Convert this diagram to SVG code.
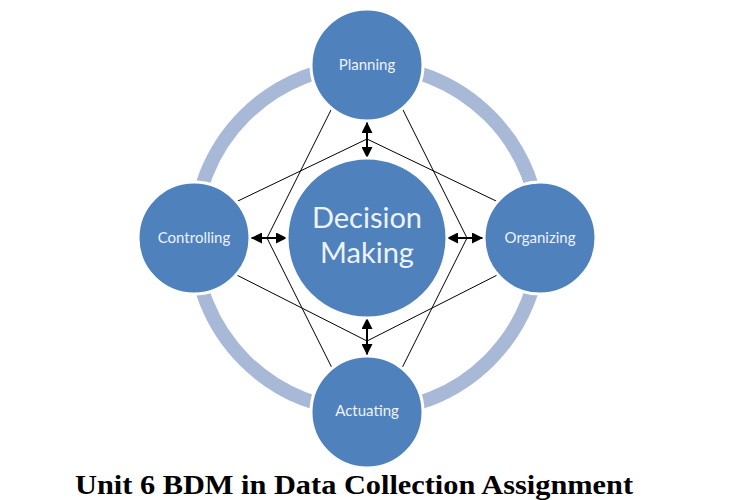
<svg xmlns="http://www.w3.org/2000/svg" width="750" height="500" viewBox="0 0 750 500">
<style>
.node{fill:#4F81BD;stroke:#fff;stroke-width:3}
.lbl{font-family:Lato,"Open Sans","Noto Sans",sans-serif;fill:#EEF3FA;text-anchor:middle;font-size:15px}
.big{font-size:29px}
.ln{stroke:#000;stroke-width:1;fill:none}
.arr{stroke:#000;stroke-width:2;fill:none;marker-start:url(#ah);marker-end:url(#ah)}
</style>
<defs>
<marker id="ah" viewBox="0 0 10 10" refX="10" refY="5" markerWidth="5.5" markerHeight="5.5" orient="auto-start-reverse" markerUnits="strokeWidth">
<path d="M0,0 L10,5 L0,10 Z" fill="#000"/>
</marker>
</defs>
<rect width="750" height="500" fill="#fff"/>
<circle cx="367" cy="238" r="173" fill="none" stroke="#A8B9D8" stroke-width="14"/>
<g id="connectors">
<polyline class="ln" points="345,82 267,238 345,394"/>
<polyline class="ln" points="389,82 467,238 389,394"/>
<polyline class="ln" points="215,212 367,139 519,212"/>
<polyline class="ln" points="215,264 367,341 519,264"/>
<line class="arr" x1="367" y1="122" x2="367" y2="158"/>
<line class="arr" x1="367" y1="318" x2="367" y2="355"/>
<line class="arr" x1="251" y1="238" x2="287" y2="238"/>
<line class="arr" x1="447" y1="238" x2="483" y2="238"/>
</g>
<g id="planning"><circle class="node" cx="367" cy="65" r="56"/><text class="lbl" x="367" y="70">Planning</text></g>
<g id="decision"><circle class="node" cx="367" cy="238" r="80"/><text class="lbl big" x="367" y="228">Decision</text><text class="lbl big" x="367" y="263">Making</text></g>
<g id="controlling"><circle class="node" cx="194" cy="238" r="56"/><text class="lbl" x="194" y="243">Controlling</text></g>
<g id="organizing"><circle class="node" cx="540" cy="238" r="56"/><text class="lbl" x="540" y="243">Organizing</text></g>
<g id="actuating"><circle class="node" cx="367" cy="412" r="56"/><text class="lbl" x="367" y="416">Actuating</text></g>
<text x="75" y="494" font-family="'Liberation Serif',serif" font-weight="bold" font-size="28" fill="#000" textLength="558" lengthAdjust="spacingAndGlyphs">Unit 6 BDM in Data Collection Assignment</text>
</svg>
